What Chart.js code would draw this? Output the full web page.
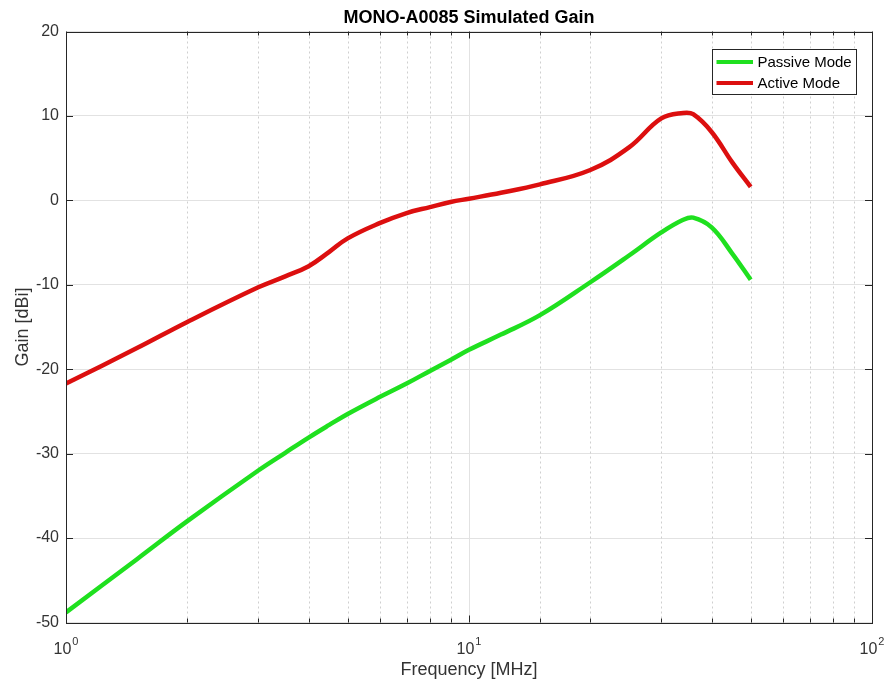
<!DOCTYPE html>
<html>
<head>
<meta charset="utf-8">
<script src="https://cdn.jsdelivr.net/npm/chart.js@4.4.0/dist/chart.umd.min.js"></script>
<style>
  html, body { margin: 0; padding: 0; background: #fff; }
  #wrap { width: 888px; height: 687px; position: relative; }
</style>
</head>
<body>
<div id="wrap"><canvas id="gainChart"></canvas></div>
<script>
// values
const freqMHz = [1, 1.5, 2, 3, 3.5, 4, 4.5, 5, 6, 7, 8, 9, 10, 12, 15, 20, 25, 30, 34, 36, 40, 45, 50];
const passiveGain = [-48.8, -42.5, -38.0, -32.0, -29.9, -28.1, -26.6, -25.3, -23.3, -21.7, -20.2, -18.9, -17.7, -15.9, -13.6, -9.7, -6.5, -3.8, -2.3, -2.05, -3.2, -6.3, -9.4];
const activeGain = [-21.7, -17.5, -14.4, -10.3, -9.0, -7.8, -6.1, -4.5, -2.7, -1.5, -0.8, -0.2, 0.2, 0.9, 1.9, 3.6, 6.3, 9.7, 10.35, 10.2, 8.1, 4.5, 1.6];
const seriesNames = ['Passive Mode', 'Active Mode'];
const xDecades = [0, 1, 2];           // exponents shown as 10^n
const yTickValues = [-50, -40, -30, -20, -10, 0, 10, 20];

const FONT = '"Liberation Sans", Arial, Helvetica, sans-serif';
const TEXT = '#333333';
const AXIS = '#262626';

function isDecade(v) {
  const l = Math.log10(v);
  return Math.abs(l - Math.round(l)) < 1e-9;
}

function toPoints(ys) {
  return freqMHz.map((f, i) => ({ x: f, y: ys[i] }));
}

// minor dotted grid on x (log sub-decades)
const minorGrid = {
  id: 'minorGrid',
  beforeDatasetsDraw(chart) {
    const { ctx, chartArea, scales } = chart;
    const xs = scales.x;
    ctx.save();
    ctx.strokeStyle = '#cfcfcf';
    ctx.lineWidth = 1;
    ctx.setLineDash([2, 3]);
    xs.ticks.forEach(t => {
      if (isDecade(t.value)) return;
      const px = Math.round(xs.getPixelForValue(t.value)) + 0.5;
      ctx.beginPath();
      ctx.moveTo(px, chartArea.top);
      ctx.lineTo(px, chartArea.bottom);
      ctx.stroke();
    });
    ctx.restore();
  }
};

// box, inward ticks, x labels with superscripts, legend
const matlabFrame = {
  id: 'matlabFrame',
  afterDraw(chart) {
    const { ctx, chartArea: a, scales } = chart;
    const xs = scales.x, ys = scales.y;
    ctx.save();
    ctx.strokeStyle = AXIS;
    ctx.lineWidth = 1;
    ctx.setLineDash([]);
    ctx.strokeRect(Math.round(a.left) + 0.5, Math.round(a.top) + 0.5,
                   Math.round(a.right - a.left), Math.round(a.bottom - a.top));

    // x ticks top and bottom
    xs.ticks.forEach(t => {
      const px = Math.round(xs.getPixelForValue(t.value)) + 0.5;
      const len = isDecade(t.value) ? 7 : 4;
      ctx.beginPath();
      ctx.moveTo(px, a.bottom); ctx.lineTo(px, a.bottom - len);
      ctx.moveTo(px, a.top); ctx.lineTo(px, a.top + len);
      ctx.stroke();
    });
    // y ticks left and right
    yTickValues.forEach(v => {
      const py = Math.round(ys.getPixelForValue(v)) + 0.5;
      ctx.beginPath();
      ctx.moveTo(a.left, py); ctx.lineTo(a.left + 7, py);
      ctx.moveTo(a.right, py); ctx.lineTo(a.right - 7, py);
      ctx.stroke();
    });

    // x tick labels 10^n
    ctx.fillStyle = TEXT;
    ctx.textBaseline = 'alphabetic';
    ctx.textAlign = 'left';
    xDecades.forEach(n => {
      const px = xs.getPixelForValue(Math.pow(10, n));
      ctx.font = '16px ' + FONT;
      const wBase = ctx.measureText('10').width;
      ctx.font = '11px ' + FONT;
      const wSup = ctx.measureText(String(n)).width;
      const x0 = px - (wBase + 1 + wSup) / 2;
      ctx.font = '16px ' + FONT;
      ctx.fillText('10', x0, a.bottom + 31);
      ctx.font = '11px ' + FONT;
      ctx.fillText(String(n), x0 + wBase + 1, a.bottom + 22.5);
    });

    // legend box
    const bx = a.right - 160, by = a.top + 17, bw = 144, bh = 45;
    ctx.fillStyle = '#ffffff';
    ctx.fillRect(bx, by, bw, bh);
    ctx.strokeStyle = AXIS;
    ctx.strokeRect(Math.round(bx) + 0.5, Math.round(by) + 0.5, bw, bh);
    chart.data.datasets.forEach((ds, i) => {
      const ly = by + 13.5 + i * 21;
      ctx.strokeStyle = ds.borderColor;
      ctx.lineWidth = 4;
      ctx.beginPath();
      ctx.moveTo(bx + 4.5, ly); ctx.lineTo(bx + 41, ly);
      ctx.stroke();
      ctx.fillStyle = '#000';
      ctx.font = '15px ' + FONT;
      ctx.textBaseline = 'middle';
      ctx.fillText(ds.label, bx + 45.5, ly + 1);
    });
    ctx.restore();
  }
};

const ctx = document.getElementById('gainChart').getContext('2d');
const gainChart = new Chart(ctx, {
  type: 'line',
  data: {
    datasets: [{
      label: seriesNames[0],
      data: toPoints(passiveGain),
      borderColor: '#1fe01f',
      borderWidth: 4.5,
      pointRadius: 0,
      tension: 0.4,
      fill: false
    }, {
      label: seriesNames[1],
      data: toPoints(activeGain),
      borderColor: '#dc0f0f',
      borderWidth: 4.5,
      pointRadius: 0,
      tension: 0.4,
      fill: false
    }]
  },
  options: {
    responsive: true,
    maintainAspectRatio: false,
    animation: false,
    layout: { padding: { top: 0, right: 16, bottom: 0, left: 0 } },
    plugins: {
      legend: { display: false },
      tooltip: { enabled: false },
      title: {
        display: true,
        text: 'MONO-A0085 Simulated Gain',
        fullSize: false,
        color: '#000',
        font: { family: FONT, size: 18, weight: 'bold' },
        padding: { top: 7, bottom: 2.9 }
      }
    },
    scales: {
      x: {
        type: 'logarithmic',
        min: 1,
        max: 100,
        border: { display: false },
        grid: {
          drawTicks: false,
          color: c => (c.tick && isDecade(c.tick.value)) ? '#e2e2e2' : 'rgba(0,0,0,0)'
        },
        ticks: { display: false },
        title: {
          display: true,
          text: 'Frequency [MHz]',
          color: TEXT,
          font: { family: FONT, size: 18 },
          padding: { top: 0, bottom: 6 }
        },
        afterFit: s => { s.height = 64.5; }
      },
      y: {
        min: -50,
        max: 20,
        border: { display: false },
        grid: { drawTicks: false, color: '#e2e2e2' },
        ticks: {
          stepSize: 10,
          padding: 7,
          color: TEXT,
          font: { family: FONT, size: 16 }
        },
        title: {
          display: true,
          text: 'Gain [dBi]',
          color: TEXT,
          font: { family: FONT, size: 18 },
          padding: { top: 12, bottom: 0 }
        },
        afterFit: s => { s.width = 66; }
      }
    }
  },
  plugins: [minorGrid, matlabFrame]
});
</script>
</body>
</html>
